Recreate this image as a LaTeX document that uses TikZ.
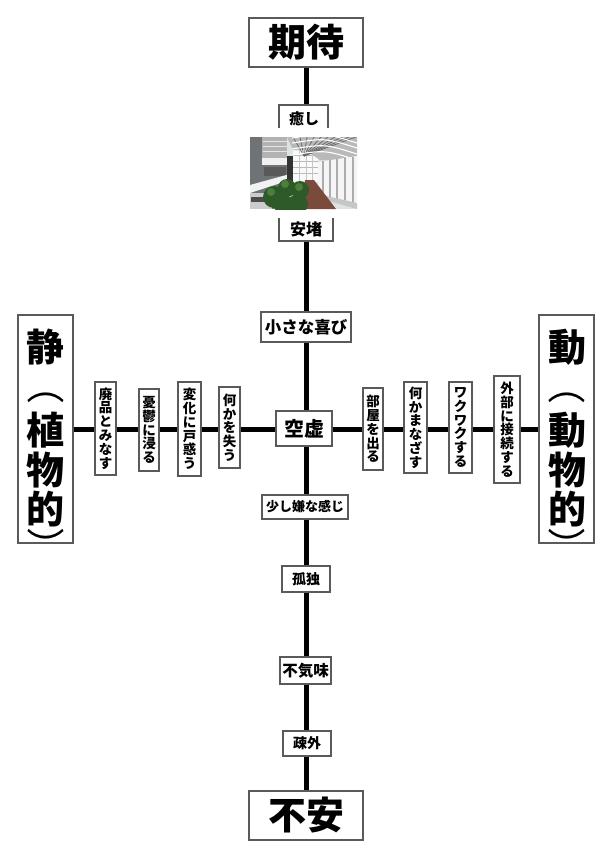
\documentclass[tikz,border=0pt]{standalone}
\usepackage{fontspec}
\setmainfont{Noto Sans CJK JP}
\usetikzlibrary{backgrounds}
\definecolor{boxgray}{HTML}{5A5A5A}
\definecolor{treegreen}{HTML}{2E5A2A}
\definecolor{treelight}{HTML}{4E7E3C}
\definecolor{floorbrown}{HTML}{7A4A3A}
\definecolor{bldgray}{HTML}{6E7375}
\definecolor{skylight}{HTML}{DDE3E4}
\tikzset{
  lbl/.style={draw=boxgray, line width=1.1pt, fill=white, inner sep=0pt},
  hlbl/.style={lbl, font=\bfseries\fontsize{#1}{#1}\selectfont},
  vlbl/.style={lbl, align=center, font=\bfseries\fontsize{13.5}{13.8}\selectfont},
  bigbox/.style={lbl, font=\bfseries\fontsize{38}{38}\selectfont},
  glyph/.style={inner sep=0pt, font=\bfseries\fontsize{38}{38}\selectfont},
  parenglyph/.style={inner sep=0pt, font=\mdseries\fontsize{38}{38}\selectfont, rotate=-90},
  opentext/.style={inner sep=0pt, font=\bfseries\fontsize{#1}{#1}\selectfont},
  openbox/.style={draw=boxgray, line width=1.1pt},
  axisline/.style={line width=5pt, black},
}
\begin{document}
\begin{tikzpicture}[x=1pt,y=-1pt]
\useasboundingbox (0,0) rectangle (613,859);

% end boxes
\node[bigbox, minimum width=114, minimum height=49] (kitai) at (306,42.5) {期待};
\node[bigbox, minimum width=114, minimum height=49] (fuan) at (306,815.5) {不安};
\node[lbl, minimum width=55, minimum height=228] (sei) at (45.5,429) {};
\node[lbl, minimum width=55, minimum height=228] (dou) at (566.5,429) {};

% vertical glyphs in side boxes
\node[glyph] (s1) at (46,347) {静};
\node[parenglyph] (s2) at (46,385) {（};
\node[glyph] (s3) at (46,430) {植};
\node[glyph] (s4) at (46,470) {物};
\node[glyph] (s5) at (46,509) {的};
\node[parenglyph] (s6) at (46,546) {）};
\node[glyph] (d1) at (567,347) {動};
\node[parenglyph] (d2) at (567,385) {（};
\node[glyph] (d3) at (567,430) {動};
\node[glyph] (d4) at (567,470) {物};
\node[glyph] (d5) at (567,509) {的};
\node[parenglyph] (d6) at (567,546) {）};

% open boxes around the photo
\node[opentext=15] (iyashi) at (304,119) {癒し};
\node[opentext=16] (ando) at (306,229) {安堵};
\coordinate (iyTop) at (306,105);
\coordinate (anBot) at (306,241);
\draw[openbox] (279,128) -- (279,105) -- (328,105) -- (328,128);
\draw[openbox] (279,218) -- (279,241) -- (333,241) -- (333,218);

% vertical axis labels
\node[hlbl=16.5, minimum width=90, minimum height=30] (chiisana) at (306,327) {小さな喜び};
\node[hlbl=20, minimum width=56, minimum height=35] (kuukyo) at (304,428.5) {空虚};
\node[hlbl=13, minimum width=86, minimum height=24] (sukoshi) at (305,507) {少し嫌な感じ};
\node[hlbl=14, minimum width=48, minimum height=26] (kodoku) at (306,579) {孤独};
\node[hlbl=15.5, minimum width=51, minimum height=27] (bukimi) at (305.5,670.5) {不気味};
\node[hlbl=14, minimum width=48, minimum height=25] (sogai) at (307,743.5) {疎外};

% horizontal axis labels (vertical text)
\node[vlbl, minimum width=21, minimum height=93] (haihin) at (105.5,428.5) {廃\\品\\と\\み\\な\\す};
\node[vlbl, minimum width=20, minimum height=82] (yuutsu) at (149,430) {憂\\鬱\\に\\浸\\る};
\node[vlbl, minimum width=23, minimum height=94] (henka) at (189.5,429) {変\\化\\に\\戸\\惑\\う};
\node[vlbl, minimum width=21, minimum height=81] (ushinau) at (229.5,427.5) {何\\か\\を\\失\\う};
\node[vlbl, minimum width=20, minimum height=82] (heya) at (373,429) {部\\屋\\を\\出\\る};
\node[vlbl, minimum width=23, minimum height=91] (manazasu) at (415.5,427.5) {何\\か\\ま\\な\\ざ\\す};
\node[vlbl, minimum width=23, minimum height=91] (wakuwaku) at (460.5,427.5) {ワ\\ク\\ワ\\ク\\す\\る};
\node[vlbl, minimum width=26, minimum height=107] (setsuzoku) at (507,429.5) {外\\部\\に\\接\\続\\す\\る};

% axes behind the boxes
\begin{pgfonlayer}{background}
  \fill[white] (0,0) rectangle (613,859);
  \draw[axisline] (kitai.south) -- (kitai.south |- iyTop);
  \draw[axisline] (fuan.north |- anBot) -- (fuan.north);
  \draw[axisline] (sei.east) -- (sei.east -| dou.west);
\end{pgfonlayer}

% photo (drawn as a simple scene)
\begin{scope}
  \clip (250,137) rectangle (357,209);
  \fill[skylight] (250,137) rectangle (357,209);
  % left building
  \fill[bldgray] (250,137) rectangle (287,209);
  \fill[gray!60] (262,137) rectangle (287,158);
  \foreach \yy in {141,146,151} \draw[white!80!gray, line width=1pt] (263,\yy) -- (287,\yy);
  \fill[white!88!gray] (262,158) rectangle (287,165);
  \fill[gray!70!black] (264,167) rectangle (286,176);
  \fill[white!90!gray] (250,185) -- (290,174) -- (290,180) -- (250,193) -- cycle;
  \fill[gray!40] (250,193) rectangle (272,209);
  \fill[black!70] (251,197) rectangle (270,202);
  % central dark pillar
  \fill[black!80] (287,156) rectangle (293,193);
  % background bright building
  \fill[white!95!gray] (293,150) rectangle (318,182);
  \foreach \yy in {155,161,167,173} \draw[gray!55, line width=0.6pt] (293,\yy) -- (318,\yy);
  \foreach \xx in {299,306,312} \draw[gray!45, line width=0.5pt] (\xx,150) -- (\xx,182);
  % glass roof
  \fill[gray!55] (287,137) -- (357,137) -- (357,162) -- (320,160) -- (305,150) -- (293,150) -- cycle;
  \foreach \xx in {293,300,307,314,321,328,335,342,349,356}
    \draw[black!60, line width=0.7pt] (304,156) -- (\xx,137);
  \foreach \yy in {139,144,150,156}
    \draw[white, line width=1.1pt] (292,\yy-1) .. controls (325,\yy-6) .. (357,\yy+4);
  % right columns
  \fill[white!92!gray] (318,162) -- (357,156) -- (357,209) -- (318,196) -- cycle;
  \foreach \xx/\yt/\yb in {323/161/197, 330/160/199, 337/159/202, 345/158/205, 353/157/208}
    \draw[gray!65, line width=1.4pt] (\xx,\yt) -- (\xx,\yb);
  \fill[gray!45] (318,194) -- (357,203) -- (357,209) -- (318,198) -- cycle;
  % floor
  \fill[floorbrown] (305,180) -- (314,180) -- (336,209) -- (303,209) -- cycle;
  % trees
  \fill[treegreen] (274,197) circle (11);
  \fill[treegreen] (287,188) circle (9);
  \fill[treegreen] (300,190) circle (9);
  \fill[treegreen] (298,204) circle (10);
  \fill[treegreen] (284,205) circle (10);
  \fill[treelight] (285,184) circle (4);
  \fill[treelight] (299,187) circle (4);
  \fill[treelight] (271,192) circle (4);
\end{scope}
\node[inner sep=0pt, minimum width=107, minimum height=72] (photo) at (303.5,173) {};
\end{tikzpicture}
\end{document}
